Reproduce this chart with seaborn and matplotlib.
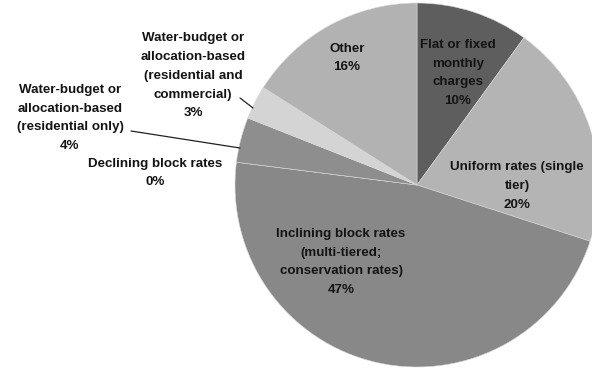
import matplotlib
matplotlib.use("Agg")
import matplotlib.pyplot as plt
import seaborn as sns

categories = [
    "Flat or fixed\nmonthly\ncharges",
    "Uniform rates (single\ntier)",
    "Inclining block rates\n(multi-tiered;\nconservation rates)",
    "Declining block rates",
    "Water-budget or\nallocation-based\n(residential only)",
    "Water-budget or\nallocation-based\n(residential and\ncommercial)",
    "Other",
]
values = [10, 20, 47, 0, 4, 3, 16]
colors = ["#5e5e5e", "#b4b4b4", "#888888", "#7a7a7a", "#8e8e8e", "#d4d4d4", "#b2b2b2"]

sns.set_theme(style="white")
plt.rcParams["font.family"] = ["Liberation Sans", "DejaVu Sans"]

W, H = 592, 373
fig = plt.figure(figsize=(W / 100, H / 100), dpi=100)
ax = fig.add_axes([0, 0, 1, 1])
cx, cy, R = 417, 185, 182

ax.pie(values, colors=colors, startangle=90, counterclock=False, radius=1,
       wedgeprops=dict(edgecolor="#d8d8d8", linewidth=0.4))
ax.set_xlim(-cx / R, (W - cx) / R)
ax.set_ylim(-(H - cy) / R, cy / R)
ax.set_aspect("equal")
ax.axis("off")

def P(px, py):
    return ((px - cx) / R, (cy - py) / R)

# label positions in pixel space (center of text block)
label_pos = [(458, 73), (517, 186), (341, 262), (155, 173), (70, 118), (193, 76), (347, 58)]
for cat, v, (px, py) in zip(categories, values, label_pos):
    x, y = P(px, py)
    ax.text(x, y, f"{cat}\n{v}%", ha="center", va="center", fontsize=9.6,
            fontweight="bold", color="#141414", linespacing=1.75)

# leader lines
for (p0, p1) in [((131, 131), (240, 148)), ((240, 98), (253, 108))]:
    a, b = P(*p0), P(*p1)
    ax.plot([a[0], b[0]], [a[1], b[1]], color="#222222", lw=0.9)

fig.savefig("out.png", dpi=100)
